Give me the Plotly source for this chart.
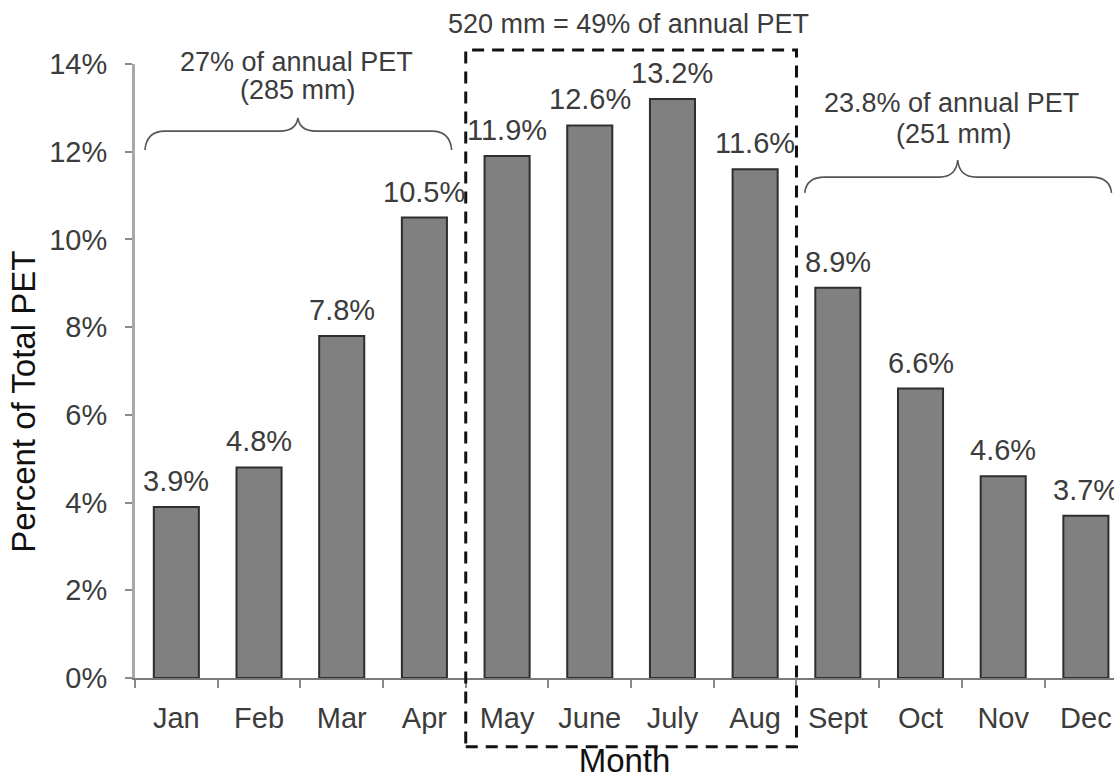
import plotly.graph_objects as go

# Monthly share of annual potential evapotranspiration (PET)
months = ["Jan", "Feb", "Mar", "Apr", "May", "June", "July", "Aug",
          "Sept", "Oct", "Nov", "Dec"]
pet_share = [3.9, 4.8, 7.8, 10.5, 11.9, 12.6, 13.2, 11.6, 8.9, 6.6, 4.6, 3.7]
value_labels = ["3.9%", "4.8%", "7.8%", "10.5%", "11.9%", "12.6%", "13.2%",
                "11.6%", "8.9%", "6.6%", "4.6%", "3.7%"]
y_tick_vals = [0, 2, 4, 6, 8, 10, 12, 14]
y_tick_text = ["0%", "2%", "4%", "6%", "8%", "10%", "12%", "14%"]

# Seasonal group notes
spring_note = ["27% of annual PET", "(285 mm)"]
summer_note = "520 mm = 49% of annual PET"
autumn_note = ["23.8% of annual PET", "(251 mm)"]
y_title = "Percent of Total PET"
x_title = "Month"

FONT = "Liberation Sans, Arial, sans-serif"
TEXT_COLOR = "#3c3c3c"
Y_MAX = 14
X_LO, X_HI = -0.5, 11.34


def cx(c):
    """Category position -> paper x."""
    return (c - X_LO) / (X_HI - X_LO)


def cy(v):
    """Percent value -> paper y."""
    return v / Y_MAX


def brace_path(c0, c1, c_tip, y_end, y_mid, y_tip, curl=0.24, tip_w=0.22):
    """Horizontal curly brace, opening downward, in paper coordinates."""
    pts = [
        f"M{cx(c0)},{cy(y_end)}",
        f"Q{cx(c0 + 0.02)},{cy(y_mid)} {cx(c0 + curl)},{cy(y_mid)}",
        f"L{cx(c_tip - tip_w)},{cy(y_mid)}",
        f"Q{cx(c_tip - 0.02)},{cy(y_mid)} {cx(c_tip)},{cy(y_tip)}",
        f"Q{cx(c_tip + 0.02)},{cy(y_mid)} {cx(c_tip + tip_w)},{cy(y_mid)}",
        f"L{cx(c1 - curl)},{cy(y_mid)}",
        f"Q{cx(c1 - 0.02)},{cy(y_mid)} {cx(c1)},{cy(y_end)}",
    ]
    return " ".join(pts)


fig = go.Figure()
fig.add_trace(go.Bar(
    x=months,
    y=pet_share,
    width=0.545,
    marker=dict(color="#808080", line=dict(color="#2e2e2e", width=2)),
    hoverinfo="x+y",
))

annotations = []
for m, v, t in zip(months, pet_share, value_labels):
    annotations.append(dict(
        x=m, y=v, xref="x", yref="y", text=t, showarrow=False,
        xanchor="center", yanchor="bottom", yshift=8,
        font=dict(family=FONT, size=29, color=TEXT_COLOR),
    ))

note_font = dict(family=FONT, size=27, color=TEXT_COLOR)


def note(c, v, text):
    return dict(x=cx(c), y=cy(v), xref="paper", yref="paper", text=text,
                showarrow=False, xanchor="center", yanchor="middle",
                font=note_font)


annotations += [
    note(1.45, 14.05, spring_note[0]),
    note(1.47, 13.40, spring_note[1]),
    note(5.47, 14.91, summer_note),
    note(9.38, 13.11, autumn_note[0]),
    note(9.40, 12.40, autumn_note[1]),
    # vertical axis title
    dict(x=cx(-0.5), y=cy(6.3), xref="paper", yref="paper", text=y_title,
         showarrow=False, textangle=-90, xanchor="center", yanchor="middle",
         xshift=-111, font=dict(family=FONT, size=33, color="#111111")),
]

shapes = [
    # dashed frame around the May-August peak
    dict(type="rect", xref="paper", yref="paper",
         x0=cx(3.5), x1=cx(7.5), y0=cy(-1.57), y1=cy(14.32),
         line=dict(color="#111111", width=3, dash="12px,8px"),
         fillcolor="rgba(0,0,0,0)", layer="above"),
    # brace over Jan-Apr
    dict(type="path", xref="paper", yref="paper",
         path=brace_path(-0.38, 3.33, 1.47, 12.04, 12.47, 12.77),
         line=dict(color="#555555", width=1.6)),
    # brace over Sept-Dec
    dict(type="path", xref="paper", yref="paper",
         path=brace_path(7.60, 11.31, 9.45, 11.06, 11.42, 11.81),
         line=dict(color="#555555", width=1.6)),
]

fig.update_layout(
    width=1114, height=779, autosize=False,
    margin=dict(l=135, r=0, t=64, b=101, pad=0),
    paper_bgcolor="white", plot_bgcolor="white",
    showlegend=False,
    font=dict(family=FONT, color=TEXT_COLOR),
    annotations=annotations,
    shapes=shapes,
    xaxis=dict(
        type="category", categoryorder="array", categoryarray=months,
        range=[X_LO, X_HI],
        showline=True, linecolor="#7a7a7a", linewidth=2,
        ticks="outside", tickson="boundaries", ticklen=8, tickwidth=2,
        tickcolor="#8a8a8a",
        tickfont=dict(family=FONT, size=29, color=TEXT_COLOR),
        ticklabelstandoff=13,
        showgrid=False, zeroline=False,
        title=dict(text=x_title, standoff=16,
                   font=dict(family=FONT, size=33, color="#111111")),
    ),
    yaxis=dict(
        range=[0, Y_MAX],
        tickvals=y_tick_vals, ticktext=y_tick_text,
        showline=True, linecolor="#a8a8a8", linewidth=3,
        ticks="outside", ticklen=7, tickwidth=2, tickcolor="#8a8a8a",
        tickfont=dict(family=FONT, size=29, color=TEXT_COLOR),
        ticklabelstandoff=12,
        showgrid=False, zeroline=False,
    ),
)

fig.write_html("out.html")
